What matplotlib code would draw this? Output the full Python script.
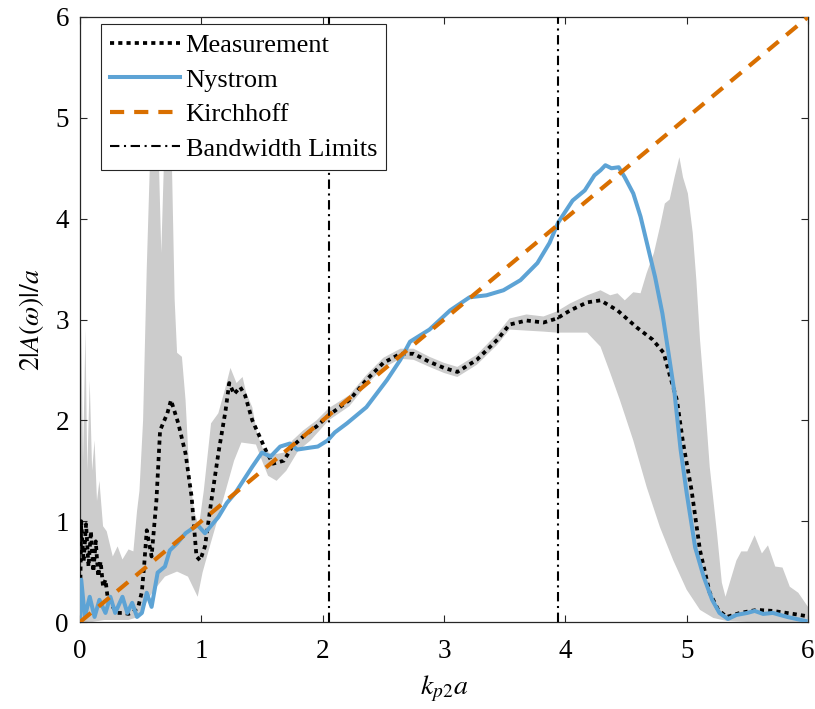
import matplotlib
matplotlib.use("Agg")
import matplotlib.pyplot as plt
import numpy as np

plt.rcParams['font.family'] = ['Liberation Serif', 'DejaVu Serif']
plt.rcParams['mathtext.fontset'] = 'stix'

# ---------------- data ----------------
nys_x = [0.0, 0.01, 0.04, 0.08, 0.12, 0.16, 0.21, 0.25, 0.29, 0.35, 0.39, 0.43, 0.47, 0.51, 0.55, 0.59,
         0.64, 0.70, 0.74, 0.80, 0.87, 0.93, 0.97, 1.03, 1.07, 1.14, 1.21, 1.28, 1.35, 1.42, 1.50, 1.57,
         1.65, 1.73, 1.79, 1.90, 1.96, 2.04, 2.10, 2.20, 2.36, 2.53, 2.64, 2.72, 2.88, 3.05, 3.21, 3.35,
         3.49, 3.63, 3.77, 3.87, 3.94, 4.06, 4.16, 4.24, 4.29, 4.33, 4.38, 4.44, 4.49, 4.56, 4.62, 4.68,
         4.74, 4.80, 4.85, 4.90, 4.95, 5.00, 5.07, 5.14, 5.21, 5.27, 5.34, 5.41, 5.50, 5.56, 5.63, 5.71,
         5.83, 5.98]
nys_y = [0.02, 0.42, 0.05, 0.25, 0.05, 0.22, 0.09, 0.25, 0.09, 0.25, 0.09, 0.19, 0.05, 0.09, 0.29, 0.15,
         0.49, 0.55, 0.71, 0.78, 0.88, 0.93, 0.96, 0.88, 0.94, 1.04, 1.18, 1.28, 1.41, 1.54, 1.68, 1.64,
         1.74, 1.77, 1.71, 1.73, 1.74, 1.80, 1.88, 1.97, 2.13, 2.40, 2.60, 2.78, 2.90, 3.09, 3.22, 3.24,
         3.29, 3.39, 3.56, 3.76, 3.96, 4.18, 4.28, 4.43, 4.48, 4.53, 4.50, 4.51, 4.41, 4.25, 4.02, 3.72,
         3.42, 3.06, 2.67, 2.27, 1.71, 1.28, 0.74, 0.45, 0.22, 0.09, 0.03, 0.07, 0.09, 0.11, 0.08, 0.09,
         0.05, 0.01]

meas_x = [0.0, 0.01, 0.03, 0.05, 0.07, 0.09, 0.11, 0.13, 0.15, 0.17, 0.19, 0.21, 0.23, 0.27, 0.31, 0.36,
          0.40, 0.44, 0.48, 0.51, 0.53, 0.55, 0.59, 0.63, 0.66, 0.72, 0.75, 0.81, 0.87, 0.92, 0.96, 0.99,
          1.03, 1.08, 1.14, 1.20, 1.23, 1.27, 1.32, 1.36, 1.42, 1.48, 1.54, 1.59, 1.68, 1.75, 1.84, 1.95,
          2.05, 2.22, 2.36, 2.50, 2.64, 2.75, 2.88, 3.00, 3.11, 3.27, 3.44, 3.54, 3.68, 3.82, 3.93, 4.04,
          4.18, 4.29, 4.43, 4.59, 4.72, 4.81, 4.86, 4.92, 4.97, 5.04, 5.11, 5.19, 5.26, 5.33, 5.44, 5.58,
          5.71, 5.88, 5.98]
meas_y = [0.1, 1.0, 0.6, 0.97, 0.55, 0.9, 0.5, 0.8, 0.45, 0.6, 0.35, 0.42, 0.22, 0.15, 0.09, 0.09,
          0.08, 0.1, 0.15, 0.3, 0.58, 0.91, 0.65, 1.21, 1.9, 2.07, 2.2, 1.97, 1.67, 1.24, 0.65, 0.61,
          0.75, 1.18, 1.67, 2.1, 2.37, 2.26, 2.33, 2.25, 2.0, 1.84, 1.68, 1.57, 1.6, 1.74, 1.84, 1.94,
          2.05, 2.2, 2.4, 2.57, 2.66, 2.66, 2.58, 2.52, 2.48, 2.6, 2.8, 2.95, 2.99, 2.97, 3.01, 3.09,
          3.17, 3.19, 3.09, 2.92, 2.8, 2.67, 2.45, 2.2, 1.78, 1.31, 0.71, 0.29, 0.12, 0.05, 0.09, 0.12,
          0.11, 0.08, 0.06]

band_up_x = [0.0, 0.01, 0.025, 0.045, 0.06, 0.08, 0.10, 0.12, 0.14, 0.16, 0.19, 0.22, 0.27, 0.31, 0.35,
             0.40, 0.44, 0.47, 0.49, 0.52, 0.55, 0.58, 0.60, 0.62, 0.645, 0.67, 0.70, 0.72, 0.75, 0.78,
             0.80, 0.84, 0.87, 0.90, 0.94, 0.98, 1.02, 1.08, 1.14, 1.20, 1.24, 1.29, 1.34, 1.37, 1.42,
             1.46, 1.51, 1.59, 1.68, 1.75, 1.84, 1.95, 2.05, 2.22, 2.36, 2.50, 2.64, 2.75, 2.88, 3.00,
             3.11, 3.27, 3.44, 3.54, 3.68, 3.82, 3.93, 4.04, 4.18, 4.29, 4.37, 4.43, 4.49, 4.56, 4.62,
             4.67, 4.73, 4.78, 4.82, 4.86, 4.90, 4.94, 4.97, 5.01, 5.05, 5.08, 5.11, 5.15, 5.19, 5.25,
             5.29, 5.32, 5.37, 5.41, 5.45, 5.50, 5.56, 5.62, 5.67, 5.73, 5.79, 5.85, 5.92, 6.0]
band_up_y = [1.0, 2.95, 1.6, 2.9, 1.5, 2.4, 1.5, 1.8, 1.2, 1.4, 0.95, 0.9, 0.65, 0.75, 0.62,
             0.72, 0.70, 1.1, 1.3, 2.0, 3.5, 4.7, 5.3, 5.6, 4.8, 3.66, 4.9, 5.5, 5.0, 3.2,
             2.67, 2.63, 2.2, 1.5, 1.1, 0.95, 1.3, 1.97, 2.07, 2.33, 2.52, 2.37, 2.43, 2.27, 2.13,
             1.87, 1.71, 1.66, 1.68, 1.80, 1.90, 2.0, 2.12, 2.25, 2.45, 2.62, 2.71, 2.71, 2.63, 2.57,
             2.53, 2.65, 2.86, 3.01, 3.05, 3.03, 3.08, 3.16, 3.24, 3.29, 3.24, 3.26, 3.19, 3.27, 3.26,
             3.46, 3.66, 3.92, 4.15, 4.19, 4.41, 4.61, 4.41, 4.25, 3.86, 3.39, 2.80, 2.20, 1.54, 0.88,
             0.39, 0.25, 0.45, 0.61, 0.70, 0.70, 0.86, 0.68, 0.76, 0.55, 0.54, 0.35, 0.29, 0.15]

band_lo_x = [0.0, 0.10, 0.20, 0.30, 0.40, 0.48, 0.52, 0.55, 0.60, 0.70, 0.80, 0.89, 0.95, 0.97, 1.01,
             1.07, 1.13, 1.20, 1.27, 1.33, 1.45, 1.50, 1.55, 1.62, 1.70, 1.80, 1.90, 2.05, 2.22, 2.36,
             2.50, 2.64, 2.75, 2.88, 3.00, 3.11, 3.27, 3.44, 3.54, 3.68, 3.82, 3.93, 4.04, 4.18, 4.29,
             4.37, 4.45, 4.56, 4.67, 4.78, 4.89, 5.00, 5.11, 5.22, 5.33, 5.50, 6.0]
band_lo_y = [0.0, 0.0, 0.02, 0.02, 0.02, 0.05, 0.12, 0.2, 0.3, 0.45, 0.5, 0.45, 0.3, 0.25, 0.49,
             0.75, 1.0, 1.3, 1.6, 1.78, 1.76, 1.6, 1.45, 1.40, 1.5, 1.70, 1.80, 2.0, 2.14, 2.35,
             2.52, 2.61, 2.60, 2.53, 2.47, 2.43, 2.55, 2.75, 2.90, 2.89, 2.88, 2.87, 2.87, 2.87, 2.73,
             2.47, 2.20, 1.80, 1.34, 0.94, 0.61, 0.32, 0.12, 0.04, 0.01, 0.0, 0.0]

kir_x = [0.0, 6.0]
kir_y = [0.0, 6.0]

bw_limits = [2.05, 3.94]

xticks = [0, 1, 2, 3, 4, 5, 6]
yticks = [0, 1, 2, 3, 4, 5, 6]

# ---------------- figure ----------------
fig = plt.figure(figsize=(8.15, 7.09), dpi=100)
ax = fig.add_axes([80/815, 87/709, 728/815, 605/709])

poly_x = np.concatenate([band_up_x, band_lo_x[::-1]])
poly_y = np.concatenate([band_up_y, band_lo_y[::-1]])
ax.fill(poly_x, poly_y, color='#cccccc', linewidth=0, zorder=1)

ax.plot(meas_x, meas_y, color='black', lw=2.7, linestyle=(0, (1.1, 1.1)), label='Measurement', zorder=3)
ax.plot(nys_x, nys_y, color='#5DA3D5', lw=2.9, label='Nystrom', zorder=4)
ax.plot(kir_x, kir_y, color='#D96F00', lw=3.0, linestyle=(0, (3.4, 2.4)), label='Kirchhoff', zorder=5)
for i, b in enumerate(bw_limits):
    ax.axvline(b, color='black', lw=1.5, linestyle=(0, (4.5, 2.2, 1.0, 2.2)),
               label='Bandwidth Limits' if i == 0 else None, zorder=6)

ax.set_xlim(0, 6)
ax.set_ylim(0, 6)
ax.set_xticks(xticks)
ax.set_yticks(yticks)
ax.tick_params(direction='in', length=5, width=0.8, top=True, right=True,
               labelsize=19.5, colors='#262626', labelcolor='black')
ax.tick_params(axis='x', pad=12)
ax.tick_params(axis='y', pad=8)
for s in ax.spines.values():
    s.set_color('#262626')
    s.set_linewidth(0.9)

ax.set_xlabel(r'$k_{p2}a$', fontsize=20)
ax.set_ylabel(r'$2|A(\omega)|/a$', fontsize=20)
ax.xaxis.set_label_coords(0.5, -0.085)
ax.yaxis.set_label_coords(-0.047, 0.5)

leg = ax.legend(loc='upper left', bbox_to_anchor=(0.029, 0.988), borderaxespad=0,
                fontsize=19, frameon=True, fancybox=False, framealpha=1,
                edgecolor='#262626', handlelength=2.65, handletextpad=0.2,
                labelspacing=0.42, borderpad=0.35)
leg.get_frame().set_linewidth(0.8)
leg.set_zorder(10)

fig.savefig('out.png', dpi=100)
